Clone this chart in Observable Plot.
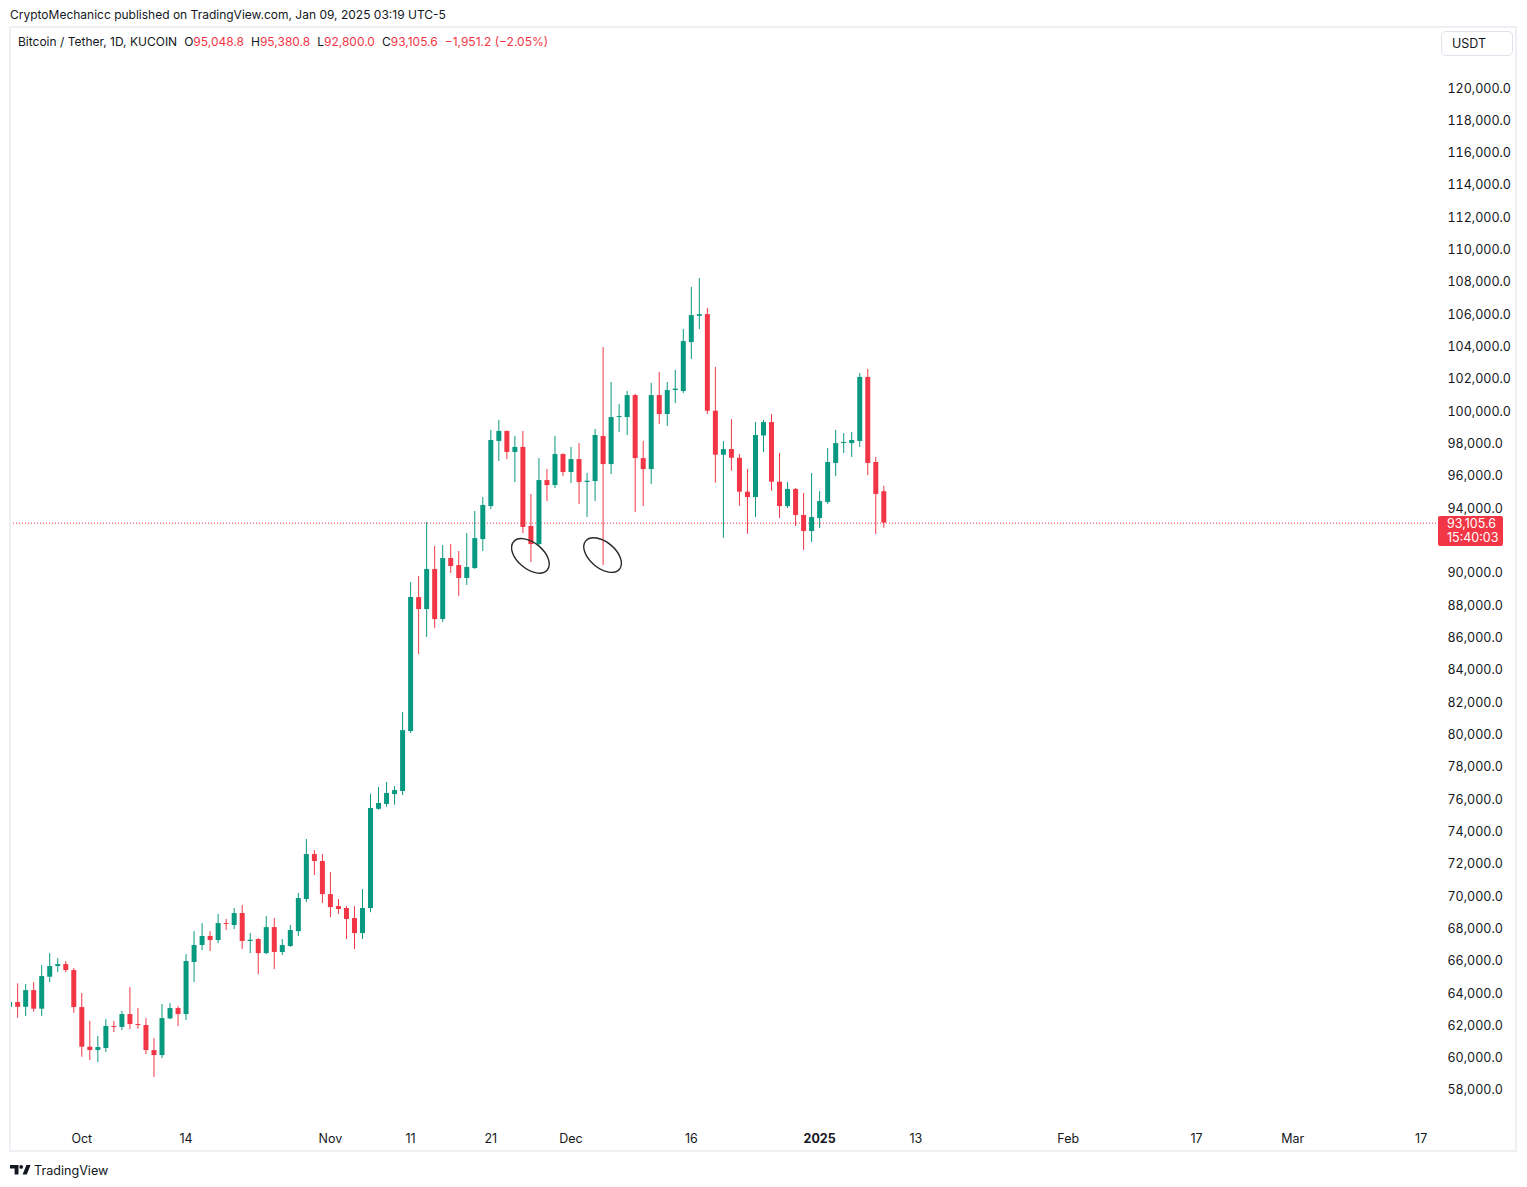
<!DOCTYPE html>
<html>
<head>
<meta charset="utf-8">
<script src="https://cdn.jsdelivr.net/npm/d3@7"></script>
<script src="https://cdn.jsdelivr.net/npm/@observablehq/plot@0.6"></script>
<style>
html, body { margin: 0; padding: 0; background: #fff; }
#wrap { position: relative; width: 1527px; height: 1187px; overflow: hidden; font-family: Inter, "Noto Sans", sans-serif; color: #131722; }
#chart { position: absolute; left: 0; top: 0; }
#pub { position: absolute; left: 10px; top: 6px; font-size: 12px; line-height: 18px; white-space: nowrap; }
#frame { position: absolute; left: 9px; top: 26px; width: 1508px; height: 1126px; box-sizing: border-box; border: 2px solid #eef0f4; pointer-events: none; }
#legend { position: absolute; left: 18px; top: 33px; font-size: 12px; line-height: 18px; white-space: nowrap; }
#legend .v { color: #f23645; }
#legend .gap { display: inline-block; width: 7px; }
#usdt { position: absolute; left: 1441px; top: 31px; width: 72px; height: 25px; box-sizing: border-box; border: 1px solid #e0e3eb; border-radius: 5px; background: #fff; font-size: 12.5px; line-height: 23px; padding-left: 10px; }
#price { position: absolute; left: 1438px; width: 65px; height: 30px; background: #f23645; border-radius: 2px; color: #fff; font-size: 12.5px; line-height: 14px; box-sizing: border-box; padding: 1px 0 0 9px; }
#tv { position: absolute; left: 10px; top: 1161px; height: 18px; display: flex; align-items: center; font-size: 12.6px; }
#tv svg { margin-right: 3px; }
</style>
</head>
<body>
<div id="wrap">
  <div id="chart"></div>
  <div id="frame"></div>
  <div id="pub">CryptoMechanicc published on TradingView.com, Jan 09, 2025 03:19 UTC-5</div>
  <div id="legend"></div>
  <div id="usdt">USDT</div>
  <div id="price"></div>
  <div id="tv">
    <svg width="21" height="10" viewBox="0 0 21 10"><path d="M0 0H8.5V9.5H4.6V3.6H0Z" fill="#131722"/><circle cx="11.2" cy="1.9" r="1.9" fill="#131722"/><path d="M12.6 9.5L16.4 0H20.6L16.8 9.5Z" fill="#131722"/></svg>
    <span>TradingView</span>
  </div>
</div>
<script>
// ---------- data ----------
const dates = [
  "2024-09-22","2024-09-23","2024-09-24","2024-09-25","2024-09-26","2024-09-27","2024-09-28","2024-09-29","2024-09-30",
  "2024-10-01","2024-10-02","2024-10-03","2024-10-04","2024-10-05","2024-10-06","2024-10-07","2024-10-08","2024-10-09","2024-10-10",
  "2024-10-11","2024-10-12","2024-10-13","2024-10-14","2024-10-15","2024-10-16","2024-10-17","2024-10-18","2024-10-19","2024-10-20",
  "2024-10-21","2024-10-22","2024-10-23","2024-10-24","2024-10-25","2024-10-26","2024-10-27","2024-10-28","2024-10-29","2024-10-30","2024-10-31",
  "2024-11-01","2024-11-02","2024-11-03","2024-11-04","2024-11-05","2024-11-06","2024-11-07","2024-11-08","2024-11-09","2024-11-10",
  "2024-11-11","2024-11-12","2024-11-13","2024-11-14","2024-11-15","2024-11-16","2024-11-17","2024-11-18","2024-11-19","2024-11-20",
  "2024-11-21","2024-11-22","2024-11-23","2024-11-24","2024-11-25","2024-11-26","2024-11-27","2024-11-28","2024-11-29","2024-11-30",
  "2024-12-01","2024-12-02","2024-12-03","2024-12-04","2024-12-05","2024-12-06","2024-12-07","2024-12-08","2024-12-09","2024-12-10",
  "2024-12-11","2024-12-12","2024-12-13","2024-12-14","2024-12-15","2024-12-16","2024-12-17","2024-12-18","2024-12-19","2024-12-20",
  "2024-12-21","2024-12-22","2024-12-23","2024-12-24","2024-12-25","2024-12-26","2024-12-27","2024-12-28","2024-12-29","2024-12-30","2024-12-31",
  "2025-01-01","2025-01-02","2025-01-03","2025-01-04","2025-01-05","2025-01-06","2025-01-07","2025-01-08","2025-01-09"
];
const opens = [
  63150,63440,63150,64180,63030,65010,65670,65790,65420,
  63130,60680,60470,60600,61960,61900,62700,62080,62020,60470,
  60160,62430,63070,62700,65920,66970,67530,67280,68330,68210,
  68950,67220,67340,66470,68080,66540,66910,67830,69820,72600,72170,
  70120,69380,69260,68640,67710,69260,75400,75700,76310,76500,
  80210,88500,87760,90240,87140,90920,90480,89680,90300,92090,
  94130,98160,98780,97480,97790,92900,91780,95740,95430,97350,
  96240,97040,95620,95680,98470,96730,99640,99640,101000,97100,
  96420,101000,99830,101310,101250,104280,105900,106010,100030,97310,
  97660,97120,95020,94690,98500,99330,95640,94130,95190,93580,92590,
  93390,94380,96800,98030,98030,98160,102120,96860,95048.8
];
const highs = [
  64000,64600,64560,64680,65730,66470,66160,65980,65550,
  64000,62270,61340,62390,62270,62890,64370,63070,62450,61210,
  63320,63380,63190,66410,67830,68330,67830,68890,68580,69260,
  69440,67710,67400,68760,68640,67340,68210,70190,73530,72850,72600,
  71490,69820,69380,69380,70430,76330,76750,77060,76810,81390,
  89430,89800,93140,91660,91720,91780,91350,92460,93830,94690,
  98840,99460,98800,98470,98780,94880,97100,96420,98470,97400,
  97790,98030,96180,98900,103970,101810,100450,101250,101070,98160,
  101750,102430,101810,102550,105090,107690,108240,106390,102740,98160,
  99520,97350,96420,99330,99460,99830,97410,95620,95250,94940,96180,
  95060,97720,98840,98650,98710,102360,102610,97170,95380.8
];
const lows = [
  62800,62470,62575,62840,62575,64680,65300,65300,62780,
  60060,59850,59730,60350,61590,61710,61770,61790,60220,58800,
  59980,62390,61960,62330,64680,66660,66600,67090,67900,67960,
  66720,66470,65170,66410,65480,66350,66850,67530,69630,71300,69570,
  68700,68890,67340,66720,67340,69000,75340,75530,75650,76250,
  80090,84980,86030,86590,86960,89990,88570,89250,90240,91350,
  93950,96920,97040,95620,92460,90670,91700,94440,95250,95990,
  95560,94260,93450,94440,90480,96110,98710,98530,93760,94130,
  95500,99210,99090,100510,101130,103230,105090,99830,95580,92170,
  96320,94150,92420,93450,97480,95080,93390,94010,92900,91410,91910,
  92770,94260,95990,97410,97170,97790,96050,92400,92800
];
const closes = [
  63440,63150,64180,63030,65050,65670,65790,65420,63130,
  60680,60470,60660,61960,61900,62700,62080,62020,60470,60160,
  62450,63070,62700,65980,66970,67530,67280,68330,68270,68950,
  67220,67300,66470,68080,66540,66970,67900,69880,72600,72170,70120,
  69320,69200,68580,67710,69260,75450,75760,76380,76560,80270,
  88500,87760,90240,87140,90920,90420,89680,90360,92150,94200,
  98220,98780,97480,97790,92840,91780,95740,95430,97350,96240,
  97040,95620,95700,98530,96730,99640,99700,101000,97100,96420,
  101000,99830,101310,101400,104340,105950,106010,100030,97310,97660,
  97120,95020,94690,98530,99330,95640,94130,95190,93580,92590,93450,
  94440,96860,98030,98100,98220,102120,96800,94880,93105.6
];
const lastPrice = 93105.6;
const lastCountdown = "15:40:03";
const priceTicks = [58000,60000,62000,64000,66000,68000,70000,72000,74000,76000,78000,80000,82000,84000,86000,88000,90000,94000,96000,98000,100000,102000,104000,106000,108000,110000,112000,114000,116000,118000,120000];
const timeTickDates = ["2024-10-01","2024-10-14","2024-11-01","2024-11-11","2024-11-21","2024-12-01","2024-12-16","2025-01-13","2025-02-01","2025-02-17","2025-03-01","2025-03-17"];
const timeTickLabels = ["Oct","14","Nov","11","21","Dec","16","13","Feb","17","Mar","17"];
const yearTickDates = ["2025-01-01"];
const yearTickLabels = ["2025"];
// hand-drawn ellipse annotations (anchored at date / price)
const noteDates = ["2024-11-26","2024-12-05"];
const notePrices = [91050, 91100];
// legend values
const legendTitle = "Bitcoin / Tether, 1D, KUCOIN";
const legendO = "95,048.8", legendH = "95,380.8", legendL = "92,800.0", legendC = "93,105.6", legendChg = "\u22121,951.2 (\u22122.05%)";

// ---------- build ----------
const UP = "#089981", DOWN = "#f23645";
const parse = s => new Date(s + "T00:00:00Z");
const candles = dates.map((d, i) => ({
  date: parse(d), open: opens[i], high: highs[i], low: lows[i], close: closes[i],
  color: closes[i] >= opens[i] ? UP : DOWN
}));
const timeTicks = timeTickDates.map((d, i) => ({date: parse(d), label: timeTickLabels[i]}));
const yearTicks = yearTickDates.map((d, i) => ({date: parse(d), label: yearTickLabels[i]}));
const notes = noteDates.map((d, i) => ({date: parse(d), price: notePrices[i]}));

const DAY = 864e5;
const oct1 = Date.UTC(2024, 9, 1);
const xDomain = [new Date(oct1 - 8.89 * DAY), new Date(oct1 + 169.04 * DAY)];
const yDomain = [56143.7, 123712.6];
const fmt = d3.format(",.1f");

const ellipseMark = (index, scales) => {
  const g = d3.create("svg:g");
  for (const n of notes) {
    const cx = scales.x(n.date), cy = scales.y(n.price);
    g.append("ellipse")
      .attr("transform", `translate(${cx},${cy}) rotate(40)`)
      .attr("rx", 22).attr("ry", 13)
      .attr("fill", "none").attr("stroke", "#2a2a2e").attr("stroke-width", 1.4);
  }
  return g.node();
};

const plot = Plot.plot({
  width: 1527,
  height: 1187,
  marginLeft: 10,
  marginRight: 90,
  marginTop: 28,
  marginBottom: 67,
  style: {fontFamily: "Inter, 'Noto Sans', sans-serif", fontSize: "12.5px", color: "#131722", background: "transparent", overflow: "visible"},
  x: {type: "utc", domain: xDomain, axis: null},
  y: {type: "linear", domain: yDomain, axis: null},
  marks: [
    Plot.ruleY([lastPrice], {stroke: DOWN, strokeWidth: 1, strokeDasharray: "1,2"}),
    Plot.ruleX(candles, {x: "date", y1: "low", y2: "high", stroke: "color", strokeWidth: 1, clip: true}),
    Plot.ruleX(candles, {x: "date", y1: "open", y2: "close", stroke: "color", strokeWidth: 5, clip: true}),
    Plot.axisY({anchor: "right", ticks: priceTicks, tickSize: 0, tickPadding: 10, tickFormat: fmt, fill: "#131722", fontSize: 12.5}),
    Plot.text(timeTicks, {x: "date", text: "label", frameAnchor: "bottom", dy: 18, lineAnchor: "middle", fill: "#131722", fontSize: 12.5}),
    Plot.text(yearTicks, {x: "date", text: "label", frameAnchor: "bottom", dy: 18, lineAnchor: "middle", fill: "#131722", fontSize: 12.5, fontWeight: "bold"}),
    ellipseMark
  ]
});
document.getElementById("chart").appendChild(plot);

// legend
document.getElementById("legend").innerHTML =
  `${legendTitle}<span class="gap"></span>O<span class="v">${legendO}</span><span class="gap"></span>H<span class="v">${legendH}</span><span class="gap"></span>L<span class="v">${legendL}</span><span class="gap"></span>C<span class="v">${legendC}</span><span class="gap"></span><span class="v">${legendChg}</span>`;

// last price label
const py = plot.scale("y").apply(lastPrice);
const pl = document.getElementById("price");
pl.style.top = (py - 7) + "px";
pl.innerHTML = `${fmt(lastPrice)}<br>${lastCountdown}`;
</script>
</body>
</html>
